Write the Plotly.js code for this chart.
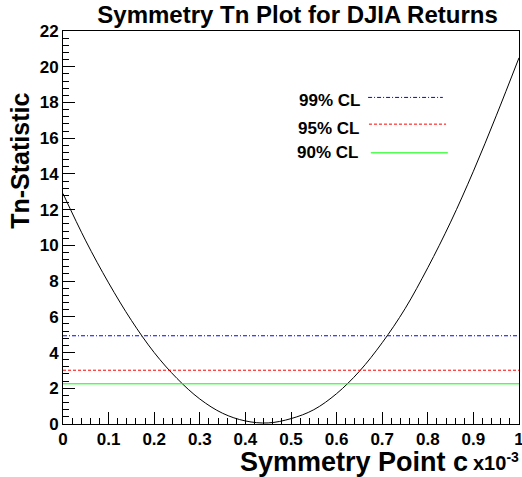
<!DOCTYPE html>
<html>
<head>
<meta charset="utf-8">
<script src="https://cdn.plot.ly/plotly-3.0.1.min.js"></script>
<style>html,body{margin:0;padding:0;background:#fff;}#chart{width:522px;height:477px;}</style>
</head>
<body>
<div id="chart"></div>
<script>
// Symmetry point c (x10^-3)
var cValues = [0, 0.05, 0.10, 0.15, 0.20, 0.25, 0.30, 0.35, 0.40, 0.45, 0.50,
               0.55, 0.60, 0.65, 0.70, 0.75, 0.80, 0.85, 0.90, 0.95, 1.00];
// Tn-statistic
var tnValues = [12.9, 10.25, 7.9, 5.8, 4.0, 2.55, 1.4, 0.6, 0.17, 0.06, 0.3,
                0.8, 1.7, 2.95, 4.55, 6.45, 8.75, 11.3, 14.15, 17.25, 20.5];
// Confidence levels
var clNames = ["99% CL", "95% CL", "90% CL"];
var clValues = [4.94, 3.01, 2.25];
var clColors = ["#0000ff", "#ff0000", "#00ff00"];
var clDash = ["4px,2px,1px,2px", "3px,2px", "solid"];
var xRange = [0, 1];
var yRange = [0, 22];
// tick labels
var xTickVals = [0, 0.1, 0.2, 0.3, 0.4, 0.5, 0.6, 0.7, 0.8, 0.9, 1];
var xTickText = ["0", "0.1", "0.2", "0.3", "0.4", "0.5", "0.6", "0.7", "0.8", "0.9", "1"];
var yTickVals = [0, 2, 4, 6, 8, 10, 12, 14, 16, 18, 20, 22];
var yTickText = ["0", "2", "4", "6", "8", "10", "12", "14", "16", "18", "20", "22"];

var FONT = "Liberation Sans, Arial, Helvetica, sans-serif";
function bold(a) { return a.map(function (s) { return "<b>" + s + "</b>"; }); }

var traces = [{
  x: cValues, y: tnValues, type: "scatter", mode: "lines",
  line: {color: "#000000", width: 1, shape: "spline", smoothing: 1},
  showlegend: false, hoverinfo: "skip"
}];
for (var i = 0; i < clValues.length; i++) {
  traces.push({
    x: xRange, y: [clValues[i], clValues[i]], type: "scatter", mode: "lines",
    name: clNames[i],
    line: {color: clColors[i], width: 1, dash: clDash[i]},
    showlegend: false, hoverinfo: "skip"
  });
}

// legend sample layout (paper coords)
var legTextX = [0.513, 0.511, 0.509];
var legTextY = [0.824, 0.753, 0.692];
var legLineX0 = [0.669, 0.671, 0.675];
var legLineX1 = [0.833, 0.840, 0.844];
var legLineY = [0.831, 0.763, 0.690];

var annotations = [];
var shapes = [];
for (var j = 0; j < clNames.length; j++) {
  annotations.push({
    xref: "paper", yref: "paper", x: legTextX[j], y: legTextY[j],
    xanchor: "left", yanchor: "middle", showarrow: false,
    text: "<b>" + clNames[j] + "</b>",
    font: {family: FONT, size: 17, color: "#000"}
  });
  shapes.push({
    type: "line", xref: "paper", yref: "paper",
    x0: legLineX0[j], x1: legLineX1[j], y0: legLineY[j], y1: legLineY[j],
    line: {color: clColors[j], width: 1, dash: clDash[j]}
  });
}
// axis titles
annotations.push({
  xref: "paper", yref: "paper", x: 0.892, y: -0.097,
  xanchor: "right", yanchor: "middle", showarrow: false,
  text: "<b>Symmetry Point c</b>",
  font: {family: FONT, size: 27, color: "#000"}
});
annotations.push({
  xref: "paper", yref: "paper", x: 0.895, y: -0.095,
  xanchor: "left", yanchor: "middle", showarrow: false,
  text: "<b>x10<sup>-3</sup></b>",
  font: {family: FONT, size: 20, color: "#000"}
});
annotations.push({
  xref: "paper", yref: "paper", x: -0.095, y: 0.669,
  xanchor: "center", yanchor: "middle", showarrow: false, textangle: -90,
  text: "<b>Tn-Statistic</b>",
  font: {family: FONT, size: 25, color: "#000"}
});

var axisCommon = {
  showgrid: false, zeroline: false, showline: true, linecolor: "#000", linewidth: 1,
  mirror: true, ticks: "inside", ticklen: 12, tickwidth: 1, tickcolor: "#000",
  tickmode: "array", ticklabeloverflow: "allow",
  tickfont: {family: FONT, size: 17, color: "#000", weight: 700}
};

var layout = {
  width: 522, height: 477,
  margin: {l: 63, r: 3, t: 31, b: 53},
  paper_bgcolor: "#fff", plot_bgcolor: "#fff",
  title: {
    text: "<b>Symmetry Tn Plot for DJIA Returns</b>",
    font: {family: FONT, size: 24, color: "#000"},
    x: 0.57, xanchor: "center", xref: "container",
    y: 0.97, yanchor: "middle", yref: "container"
  },
  xaxis: Object.assign({}, axisCommon, {
    range: xRange, tickvals: xTickVals, ticktext: bold(xTickText),
    minor: {tickmode: "linear", tick0: 0, dtick: 0.02, ticks: "inside", ticklen: 6, tickcolor: "#000", showgrid: false}
  }),
  yaxis: Object.assign({}, axisCommon, {
    range: yRange, tickvals: yTickVals, ticktext: bold(yTickText),
    minor: {tickmode: "linear", tick0: 0, dtick: 0.4, ticks: "inside", ticklen: 6, tickcolor: "#000", showgrid: false}
  }),
  annotations: annotations,
  shapes: shapes,
  showlegend: false
};

Plotly.newPlot("chart", traces, layout, {staticPlot: true, displayModeBar: false});
</script>
</body>
</html>
